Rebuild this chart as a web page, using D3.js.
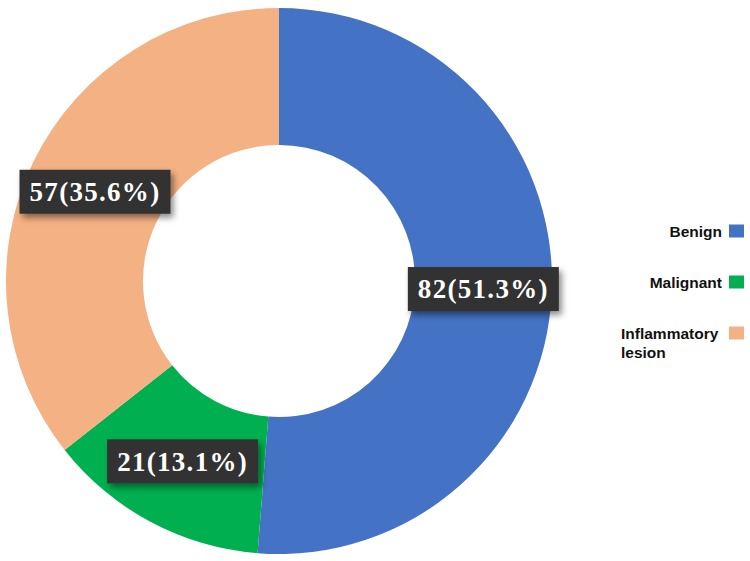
<!DOCTYPE html>
<html>
<head>
<meta charset="utf-8">
<script src="https://cdn.jsdelivr.net/npm/d3@7"></script>
<style>
  body { margin: 0; background: #fff; }
  svg { display: block; }
</style>
</head>
<body>
<svg id="chart" width="750" height="561"></svg>
<script>
// data
var categories = ["Benign", "Malignant", "Inflammatory lesion"];
var counts = [82, 21, 57];
var percents = ["51.3%", "13.1%", "35.6%"];
var colors = ["#4472C4", "#00B050", "#F4B183"];

var svg = d3.select("#chart");
var cx = 279, cy = 281;
var outerR = 273, innerR = 136;

var defs = svg.append("defs");
var shadow = defs.append("filter").attr("id", "shadow")
  .attr("x", "-20%").attr("y", "-30%").attr("width", "150%").attr("height", "180%");
shadow.append("feDropShadow")
  .attr("dx", 3).attr("dy", 4).attr("stdDeviation", 3)
  .attr("flood-color", "#000").attr("flood-opacity", 0.45);

var pie = d3.pie().sort(null).value(function(d) { return d; });
var arc = d3.arc().innerRadius(innerR).outerRadius(outerR);
var arcs = pie(counts);

var g = svg.append("g").attr("transform", `translate(${cx},${cy})`);

g.selectAll("path.slice").data(arcs).enter().append("path")
  .attr("class", "slice")
  .attr("d", arc)
  .attr("fill", function(d, i) { return colors[i]; });

// labels at the arc centroids, on dark boxes
var boxW = 151, boxH = 44;
var labels = g.selectAll("g.label").data(arcs).enter().append("g")
  .attr("class", "label")
  .attr("transform", function(d) {
    var c = arc.centroid(d);
    return `translate(${c[0]},${c[1]})`;
  });

labels.append("rect")
  .attr("x", -boxW / 2).attr("y", -boxH / 2)
  .attr("width", boxW).attr("height", boxH)
  .attr("fill", "#333333")
  .attr("filter", "url(#shadow)");

labels.append("text")
  .attr("text-anchor", "middle")
  .attr("dy", "0.35em")
  .attr("font-family", "'Liberation Serif', 'Times New Roman', serif")
  .attr("font-weight", "bold")
  .attr("font-size", 27)
  .attr("letter-spacing", 1.3)
  .attr("fill", "#ffffff")
  .text(function(d, i) { return counts[i] + "(" + percents[i] + ")"; });

// legend on the right
var legendY = d3.scalePoint().domain(categories).range([231, 333]);
var legend = svg.selectAll("g.legend").data(categories).enter().append("g")
  .attr("class", "legend")
  .attr("transform", function(d) { return `translate(0,${legendY(d)})`; });

legend.append("rect")
  .attr("x", 729).attr("y", -6.5)
  .attr("width", 15).attr("height", 13)
  .attr("fill", function(d, i) { return colors[i]; });

legend.each(function(d) {
  var words = d.split(" ");
  var t = d3.select(this).append("text")
    .attr("font-family", "'Liberation Sans', Arial, sans-serif")
    .attr("font-weight", "bold")
    .attr("font-size", 15.5)
    .attr("fill", "#111");
  if (words.length > 1) {
    t.attr("x", 621).attr("y", 6).attr("text-anchor", "start");
    t.append("tspan").attr("x", 621).attr("dy", 0).text(words[0]);
    t.append("tspan").attr("x", 621).attr("dy", 19).text(words.slice(1).join(" "));
  } else {
    t.attr("x", 722).attr("y", 5.5).attr("text-anchor", "end").text(d);
  }
});
</script>
</body>
</html>
